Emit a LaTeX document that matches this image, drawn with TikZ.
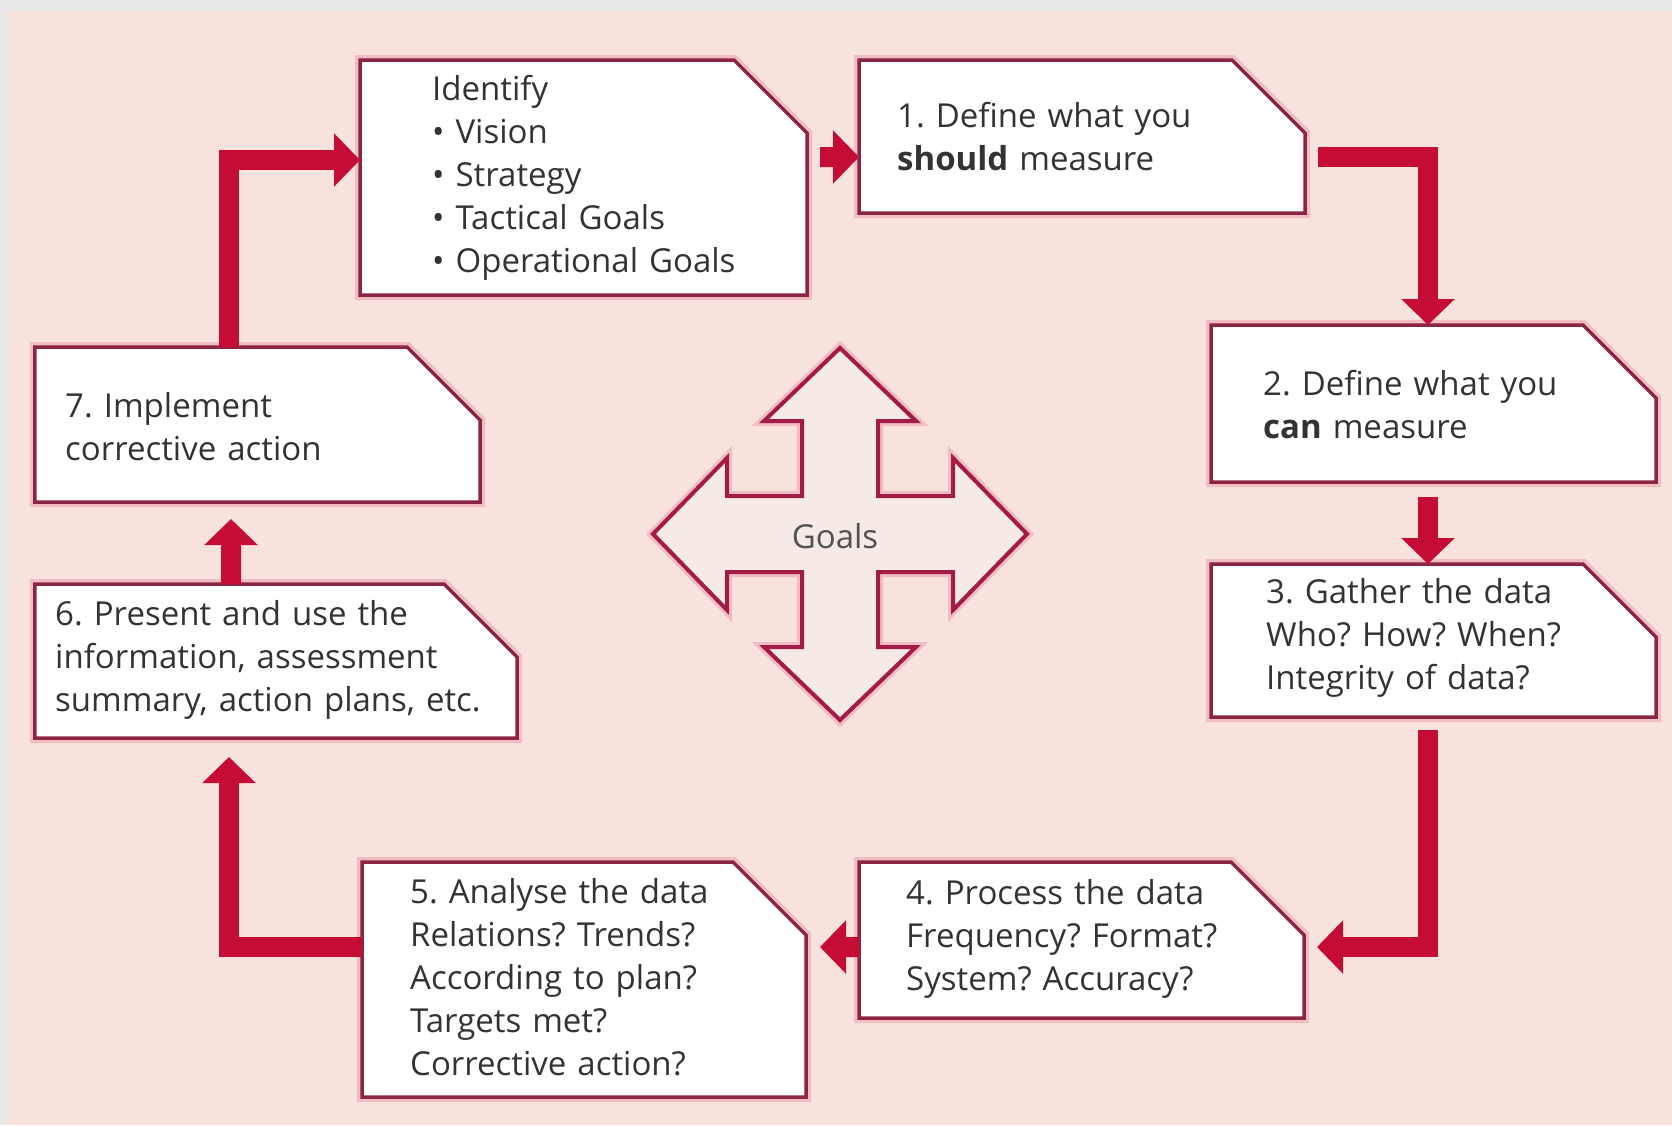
\documentclass[tikz,border=0pt]{standalone}
\usepackage{fontspec}
\setmainfont{Open Sans}
\usetikzlibrary{arrows.meta}
\frenchspacing

\definecolor{bgpink}{HTML}{F8E2DD}
\definecolor{bggray}{HTML}{E9E9E9}
\definecolor{flowred}{HTML}{C40C34}
\definecolor{framecol}{HTML}{8A2644}
\definecolor{glowcol}{HTML}{EC9AAA}
\definecolor{ink}{HTML}{333333}
\definecolor{crossfill}{HTML}{F5EAE5}
\definecolor{crossline}{HTML}{A31C45}

% outline of a card with its top-right corner cut off
\newcommand\cardpath[1]{(#1.south west) |- ([xshift=-73bp]#1.north east) -- ([yshift=-73bp]#1.north east) -- (#1.south east) -- cycle}

\tikzset{
  box/.style={rectangle, inner sep=0pt, outer sep=0pt},
  cardtext/.style={anchor=north west, inner sep=0pt, text width=520bp, align=left,
    text=ink, font=\fontsize{33bp}{43bp}\selectfont, execute at begin node=\strut},
  flow/.style={draw=flowred, line width=20bp, line join=miter, line cap=butt,
    -{Triangle[width=52bp,length=26bp]}},
}

\begin{document}
\begin{tikzpicture}[x=1bp,y=-1bp]
\useasboundingbox (0,0) rectangle (1672,1125);
\fill[bggray] (0,0) rectangle (1672,1125);
\fill[bgpink] (8,11) rectangle (1672,1125);

% card frames
\node[box, minimum width=447bp, minimum height=235bp] (ident) at (583.5,177.5) {};
\node[box, minimum width=446bp, minimum height=153bp] (b1) at (1082,136.5) {};
\node[box, minimum width=445bp, minimum height=157bp] (b2) at (1433.5,403.5) {};
\node[box, minimum width=445bp, minimum height=153bp] (b3) at (1433.5,640.5) {};
\node[box, minimum width=445bp, minimum height=156bp] (b4) at (1081.5,940) {};
\node[box, minimum width=444bp, minimum height=235bp] (b5) at (584,979.5) {};
\node[box, minimum width=482bp, minimum height=154bp] (b6) at (276,661) {};
\node[box, minimum width=445bp, minimum height=155bp] (b7) at (257.5,424.5) {};

\foreach \n in {ident,b1,b2,b3,b4,b5,b6,b7}{
  \fill[glowcol, opacity=.45, xshift=4bp, yshift=-5bp] \cardpath{\n};
  \draw[glowcol, opacity=.5, line width=10bp, line join=miter] \cardpath{\n};
  \filldraw[fill=white, draw=framecol, line width=3.5bp, line join=miter] \cardpath{\n};
}

% card texts
\node[cardtext] (ident-t) at (432,69.9) {Identify\\• Vision\\• Strategy\\• Tactical Goals\\• Operational Goals};
\node[cardtext] (b1-t) at (897,96.9) {1. Define what you\\\textbf{should} measure};
\node[cardtext] (b2-t) at (1263,364.9) {2. Define what you\\\textbf{can} measure};
\node[cardtext] (b3-t) at (1266,572.9) {3. Gather the data\\Who? How? When?\\Integrity of data?};
\node[cardtext] (b4-t) at (906,873.9) {4. Process the data\\Frequency? Format?\\System? Accuracy?};
\node[cardtext] (b5-t) at (410,872.9) {5. Analyse the data\\Relations? Trends?\\According to plan?\\Targets met?\\Corrective action?};
\node[cardtext] (b6-t) at (55,594.9) {6. Present and use the\\information, assessment\\summary, action plans, etc.};
\node[cardtext] (b7-t) at (65,386.9) {7. Implement\\corrective action};

% flow arrows
\draw[flow] ([xshift=-28.5bp]b7.north) |- ([yshift=17.5bp]ident.west);
\draw[flow] ([xshift=13bp,yshift=20.5bp]ident.east) -- ([yshift=-20.5bp]b1.west);
\draw[flow] ([xshift=13bp,yshift=-20.5bp]b1.east) -| ([xshift=-5.5bp]b2.north);
\draw[flow] ([xshift=-5.5bp,yshift=-15bp]b2.south) -- ([xshift=-5.5bp]b3.north);
\draw[flow] ([xshift=-5.5bp,yshift=-13bp]b3.south) |- ([xshift=13bp,yshift=-7bp]b4.east);
\draw[flow] ([yshift=-7bp]b4.west) -- ([xshift=14bp,yshift=32.5bp]b5.east);
\draw[flow] ([yshift=32.5bp]b5.west) -| ([xshift=-47bp,yshift=-19bp]b6.south);
\draw[flow] ([xshift=-45bp]b6.north) -- ([xshift=-26.5bp,yshift=-17bp]b7.south);

% four-way goals arrow
\begin{scope}[shift={(840,534)}]
  \def\crosspath{(0,-186) -- (76,-113) -- (38,-113) -- (38,-38) -- (113,-38) -- (113,-76) -- (187,0) -- (113,76) -- (113,38) -- (38,38) -- (38,113) -- (76,113) -- (0,186) -- (-76,113) -- (-38,113) -- (-38,38) -- (-113,38) -- (-113,76) -- (-187,0) -- (-113,-76) -- (-113,-38) -- (-38,-38) -- (-38,-113) -- (-76,-113) -- cycle}
  \draw[glowcol, opacity=.5, line width=10bp, line join=miter] \crosspath;
  \filldraw[fill=crossfill, draw=crossline, line width=4bp, line join=miter] \crosspath;
\end{scope}
\node[anchor=base, inner sep=0pt, text=ink!85, font=\fontsize{33bp}{43bp}\selectfont] (goals) at (835,548) {Goals};
\end{tikzpicture}
\end{document}
